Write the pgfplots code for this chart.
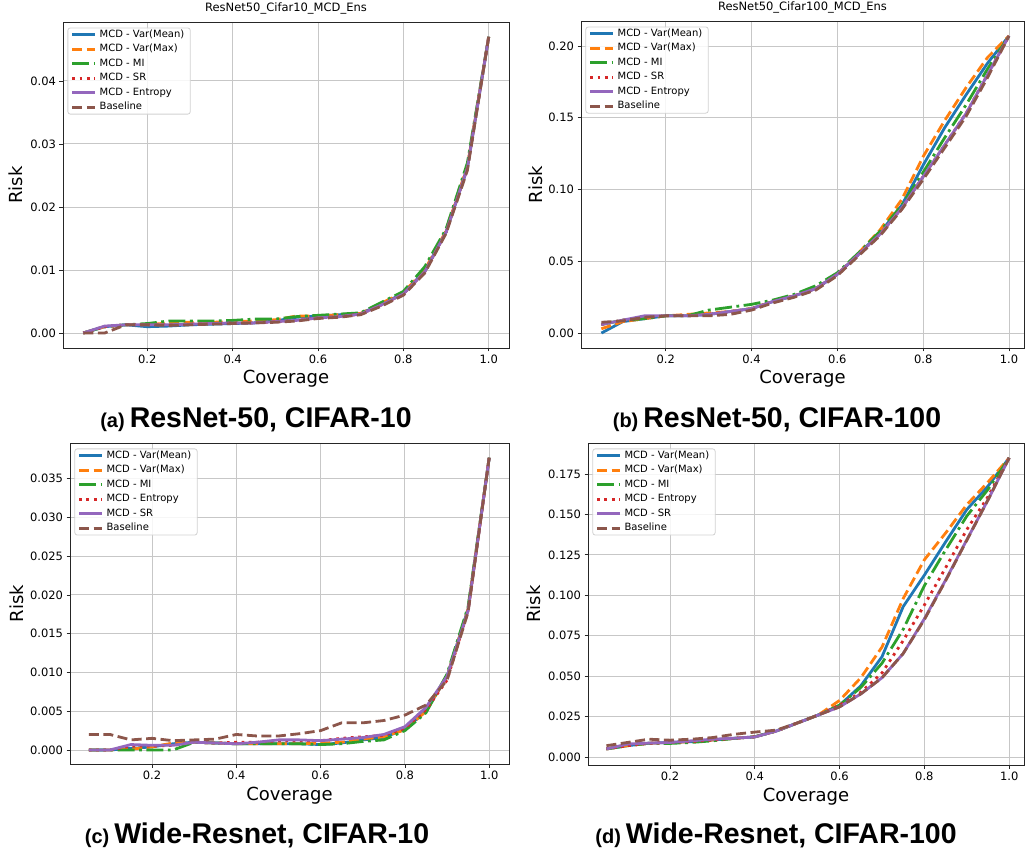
\documentclass[border=0pt]{standalone}
\usepackage{pgfplots}
\pgfplotsset{compat=1.18}
\usepackage{pgfplotstable}
\usepackage{fontspec}
\setmainfont{DejaVu Sans}
\newfontfamily\capfont{Liberation Sans}

\definecolor{tblue}{HTML}{1F77B4}
\definecolor{torange}{HTML}{FF7F0E}
\definecolor{tgreen}{HTML}{2CA02C}
\definecolor{tred}{HTML}{D62728}
\definecolor{tpurple}{HTML}{9467BD}
\definecolor{tbrown}{HTML}{8C564B}

% columns: x, s1..s6 in legend order
\pgfplotstableread{
x    s1     s2     s3     s4     s5     s6
0.05 0      0      0      0      0      0
0.10 0.0010 0.0010 0.0010 0.0010 0.0011 0
0.15 0.0013 0.0013 0.0013 0.0013 0.0013 0.0013
0.20 0.0010 0.0013 0.0015 0.0013 0.0013 0.0013
0.25 0.0011 0.0016 0.0019 0.0013 0.0013 0.0012
0.30 0.0013 0.0017 0.0019 0.0014 0.0014 0.0013
0.35 0.0014 0.0017 0.0019 0.0015 0.0015 0.0014
0.40 0.0015 0.0018 0.0020 0.0016 0.0016 0.0015
0.45 0.0016 0.0019 0.0022 0.0016 0.0016 0.0016
0.50 0.0019 0.0021 0.0022 0.0018 0.0018 0.0017
0.55 0.0025 0.0027 0.0026 0.0020 0.0020 0.0019
0.60 0.0027 0.0027 0.0028 0.0024 0.0024 0.0023
0.65 0.0029 0.0029 0.0030 0.0026 0.0026 0.0025
0.70 0.0031 0.0031 0.0032 0.0030 0.0030 0.0029
0.75 0.0046 0.0048 0.0049 0.0045 0.0045 0.0043
0.80 0.0063 0.0064 0.0066 0.0062 0.0062 0.0060
0.85 0.0098 0.0100 0.0105 0.0097 0.0097 0.0095
0.90 0.0160 0.0162 0.0165 0.0160 0.0160 0.0158
0.95 0.0262 0.0265 0.0270 0.0262 0.0262 0.0258
1.00 0.0470 0.0470 0.0470 0.0470 0.0470 0.0470
}\tabA

\pgfplotstableread{
x    s1    s2    s3    s4    s5    s6
0.05 0     0.003 0.006 0.006 0.006 0.0075
0.10 0.008 0.008 0.009 0.009 0.009 0.0085
0.15 0.010 0.010 0.010 0.011 0.012 0.011
0.20 0.012 0.012 0.012 0.012 0.012 0.012
0.25 0.012 0.013 0.012 0.012 0.012 0.012
0.30 0.013 0.014 0.016 0.013 0.013 0.012
0.35 0.015 0.015 0.018 0.015 0.015 0.013
0.40 0.017 0.017 0.020 0.017 0.017 0.016
0.45 0.022 0.022 0.023 0.022 0.022 0.021
0.50 0.026 0.026 0.027 0.026 0.026 0.025
0.55 0.031 0.031 0.033 0.031 0.031 0.030
0.60 0.041 0.041 0.042 0.041 0.041 0.040
0.65 0.055 0.056 0.056 0.055 0.055 0.054
0.70 0.070 0.072 0.071 0.069 0.069 0.068
0.75 0.089 0.093 0.089 0.087 0.087 0.086
0.80 0.117 0.123 0.112 0.109 0.109 0.107
0.85 0.143 0.148 0.136 0.131 0.131 0.129
0.90 0.166 0.171 0.159 0.153 0.153 0.151
0.95 0.188 0.192 0.184 0.180 0.180 0.178
1.00 0.207 0.207 0.207 0.207 0.207 0.207
}\tabB

\pgfplotstableread{
x    s1     s2     s3     s4     s5     s6
0.05 0      0      0      0      0      0.0020
0.10 0      0      0      0      0      0.0020
0.15 0.0002 0.0001 0      0.0005 0.0007 0.0013
0.20 0.0004 0.0004 0      0.0005 0.0006 0.0015
0.25 0.0008 0.0009 0      0.0006 0.0006 0.0012
0.30 0.0010 0.0010 0.0010 0.0010 0.0010 0.0013
0.35 0.0009 0.0009 0.0009 0.0009 0.0009 0.0014
0.40 0.0008 0.0008 0.0008 0.0010 0.0008 0.0020
0.45 0.0008 0.0008 0.0008 0.0010 0.0010 0.0018
0.50 0.0008 0.0008 0.0008 0.0012 0.0013 0.0018
0.55 0.0008 0.0008 0.0008 0.0012 0.0013 0.0021
0.60 0.0007 0.0009 0.0007 0.0012 0.0012 0.0025
0.65 0.0009 0.0010 0.0008 0.0015 0.0014 0.0035
0.70 0.0013 0.0014 0.0011 0.0017 0.0016 0.0035
0.75 0.0016 0.0017 0.0013 0.0019 0.0020 0.0038
0.80 0.0027 0.0026 0.0025 0.0028 0.0030 0.0045
0.85 0.0050 0.0050 0.0048 0.0052 0.0055 0.0058
0.90 0.0095 0.0095 0.0098 0.0090 0.0095 0.0090
0.95 0.0182 0.0182 0.0185 0.0180 0.0180 0.0178
1.00 0.0377 0.0377 0.0377 0.0377 0.0377 0.0377
}\tabC

\pgfplotstableread{
x    s1     s2     s3     s4     s5     s6
0.05 0.005  0.005  0.005  0.005  0.005  0.007
0.10 0.007  0.007  0.007  0.007  0.008  0.009
0.15 0.0085 0.0085 0.0085 0.0085 0.0086 0.011
0.20 0.009  0.009  0.0084 0.009  0.009  0.0104
0.25 0.0095 0.0095 0.009  0.0095 0.010  0.011
0.30 0.0105 0.0105 0.010  0.0105 0.011  0.012
0.35 0.0115 0.0115 0.0115 0.0115 0.0116 0.014
0.40 0.0125 0.0125 0.0125 0.0125 0.0124 0.0154
0.45 0.016  0.016  0.016  0.016  0.016  0.0166
0.50 0.021  0.021  0.021  0.021  0.021  0.021
0.55 0.026  0.026  0.026  0.026  0.026  0.026
0.60 0.032  0.035  0.032  0.032  0.031  0.031
0.65 0.044  0.049  0.043  0.040  0.039  0.039
0.70 0.062  0.068  0.058  0.052  0.049  0.049
0.75 0.093  0.098  0.079  0.072  0.064  0.064
0.80 0.1125 0.122  0.106  0.094  0.0855 0.085
0.85 0.133  0.1385 0.128  0.117  0.1094 0.109
0.90 0.153  0.156  0.149  0.1406 0.1343 0.134
0.95 0.1675 0.170  0.1655 0.161  0.159  0.159
1.00 0.185  0.185  0.185  0.185  0.185  0.185
}\tabD

\pgfplotsset{
  panel/.style={
    scale only axis, anchor=south west,
    axis line style={draw=black!85, line width=0.9pt},
    grid=major, grid style={draw=black!22, line width=0.9pt},
    tick align=outside, tick pos=left, major tick length=3.5pt,
    tick style={draw=black!85, line width=0.8pt},
    xtick={0.2,0.4,0.6,0.8,1.0},
    /pgf/number format/assume math mode=true,
    scaled ticks=false,
    tick label style={font=\fontsize{11.5}{13}\selectfont},
    x tick label style={/pgf/number format/.cd, fixed, fixed zerofill, precision=1, /tikz/.cd},
    xlabel=Coverage, ylabel=Risk,
    label style={font=\fontsize{18}{20}\selectfont},
    xlabel style={at={(axis description cs:0.5,0)}, anchor=base, yshift=-36pt},
    title style={font=\fontsize{11.5}{13}\selectfont, at={(axis description cs:0.5,1)}, anchor=base, yshift=4.5pt},
    legend cell align=left,
    legend style={at={(axis description cs:0.01,0.983)}, anchor=north west,
      draw=black!18, line width=0.8pt, rounded corners=2.5pt,
      fill=white, fill opacity=0.85, draw opacity=1, text opacity=1,
      font=\fontsize{10}{12}\selectfont,
      inner xsep=3pt, inner ysep=2pt, row sep=4.8pt,
      nodes={inner xsep=3pt, inner ysep=0pt, text height=7.5pt, text depth=2.2pt}},
    legend image code/.code={\draw[#1, line width=2.8pt, line cap=butt] (0pt,0pt) -- (23pt,0pt);},
    every axis plot/.append style={line width=2.8pt, line join=round, line cap=butt},
  },
  sA/.style={tblue},
  sB/.style={torange, dash pattern=on 10pt off 4.5pt},
  sC/.style={tgreen, dash pattern=on 17pt off 4.5pt on 2.8pt off 4.5pt},
  sD/.style={tred, dash pattern=on 2.8pt off 4.5pt},
  sE/.style={tpurple},
  sF/.style={tbrown, dash pattern=on 10pt off 4.5pt},
}

\begin{document}
\begin{tikzpicture}
\useasboundingbox (0,0) rectangle (1025pt,852pt);

% (a)
\begin{axis}[panel, at={(63pt,504pt)}, width=446pt, height=326pt,
  xmin=0.0025, xmax=1.0475, ymin=-0.00238, ymax=0.04935,
  ytick={0,0.01,0.02,0.03,0.04},
  y tick label style={/pgf/number format/.cd, fixed, fixed zerofill, precision=2, /tikz/.cd},
  ylabel style={at={(axis description cs:-0.0897,0.5)}, anchor=base},
  title={ResNet50\_Cifar10\_MCD\_Ens}]
\addplot[sA] table[x=x,y=s1]{\tabA}; \addlegendentry{MCD - Var(Mean)}
\addplot[sB] table[x=x,y=s2]{\tabA}; \addlegendentry{MCD - Var(Max)}
\addplot[sC] table[x=x,y=s3]{\tabA}; \addlegendentry{MCD - MI}
\addplot[sD] table[x=x,y=s4]{\tabA}; \addlegendentry{MCD - SR}
\addplot[sE] table[x=x,y=s5]{\tabA}; \addlegendentry{MCD - Entropy}
\addplot[sF] table[x=x,y=s6]{\tabA}; \addlegendentry{Baseline}
\end{axis}

% (b)
\begin{axis}[panel, at={(581pt,504pt)}, width=443pt, height=327pt,
  xmin=0.0025, xmax=1.035, ymin=-0.0104, ymax=0.2174,
  ytick={0,0.05,0.1,0.15,0.2},
  y tick label style={/pgf/number format/.cd, fixed, fixed zerofill, precision=2, /tikz/.cd},
  ylabel style={at={(axis description cs:-0.088,0.5)}, anchor=base},
  title={ResNet50\_Cifar100\_MCD\_Ens}]
\addplot[sA] table[x=x,y=s1]{\tabB}; \addlegendentry{MCD - Var(Mean)}
\addplot[sB] table[x=x,y=s2]{\tabB}; \addlegendentry{MCD - Var(Max)}
\addplot[sC] table[x=x,y=s3]{\tabB}; \addlegendentry{MCD - MI}
\addplot[sD] table[x=x,y=s4]{\tabB}; \addlegendentry{MCD - SR}
\addplot[sE] table[x=x,y=s5]{\tabB}; \addlegendentry{MCD - Entropy}
\addplot[sF] table[x=x,y=s6]{\tabB}; \addlegendentry{Baseline}
\end{axis}

% (c)
\begin{axis}[panel, at={(70pt,88pt)}, width=439pt, height=321pt,
  xmin=0.0053, xmax=1.047, ymin=-0.00181, ymax=0.0396,
  ytick={0,0.005,0.01,0.015,0.02,0.025,0.03,0.035},
  y tick label style={/pgf/number format/.cd, fixed, fixed zerofill, precision=3, /tikz/.cd},
  ylabel style={at={(axis description cs:-0.107,0.5)}, anchor=base}]
\addplot[sA] table[x=x,y=s1]{\tabC}; \addlegendentry{MCD - Var(Mean)}
\addplot[sB] table[x=x,y=s2]{\tabC}; \addlegendentry{MCD - Var(Max)}
\addplot[sC] table[x=x,y=s3]{\tabC}; \addlegendentry{MCD - MI}
\addplot[sD] table[x=x,y=s4]{\tabC}; \addlegendentry{MCD - Entropy}
\addplot[sE] table[x=x,y=s5]{\tabC}; \addlegendentry{MCD - SR}
\addplot[sF] table[x=x,y=s6]{\tabC}; \addlegendentry{Baseline}
\end{axis}

% (d)
\begin{axis}[panel, at={(588pt,87pt)}, width=436pt, height=322pt,
  xmin=0.0065, xmax=1.035, ymin=-0.00495, ymax=0.1942,
  ytick={0,0.025,0.05,0.075,0.1,0.125,0.15,0.175},
  y tick label style={/pgf/number format/.cd, fixed, fixed zerofill, precision=3, /tikz/.cd},
  ylabel style={at={(axis description cs:-0.110,0.5)}, anchor=base}]
\addplot[sA] table[x=x,y=s1]{\tabD}; \addlegendentry{MCD - Var(Mean)}
\addplot[sB] table[x=x,y=s2]{\tabD}; \addlegendentry{MCD - Var(Max)}
\addplot[sC] table[x=x,y=s3]{\tabD}; \addlegendentry{MCD - MI}
\addplot[sD] table[x=x,y=s4]{\tabD}; \addlegendentry{MCD - Entropy}
\addplot[sE] table[x=x,y=s5]{\tabD}; \addlegendentry{MCD - SR}
\addplot[sF] table[x=x,y=s6]{\tabD}; \addlegendentry{Baseline}
\end{axis}

% captions
\node[anchor=base, inner sep=0pt] at (256pt,424pt) {\capfont\bfseries{\fontsize{20}{22}\selectfont (a)}\hspace{5pt}{\fontsize{28.5}{30}\selectfont ResNet-50, CIFAR-10}};
\node[anchor=base, inner sep=0pt] at (777pt,424pt) {\capfont\bfseries{\fontsize{20}{22}\selectfont (b)}\hspace{5pt}{\fontsize{28.5}{30}\selectfont ResNet-50, CIFAR-100}};
\node[anchor=base, inner sep=0pt] at (257pt,9pt) {\capfont\bfseries{\fontsize{20}{22}\selectfont (c)}\hspace{5pt}{\fontsize{28.5}{30}\selectfont Wide-Resnet, CIFAR-10}};
\node[anchor=base, inner sep=0pt] at (776pt,9pt) {\capfont\bfseries{\fontsize{20}{22}\selectfont (d)}\hspace{5pt}{\fontsize{28.5}{30}\selectfont Wide-Resnet, CIFAR-100}};
\end{tikzpicture}
\end{document}
